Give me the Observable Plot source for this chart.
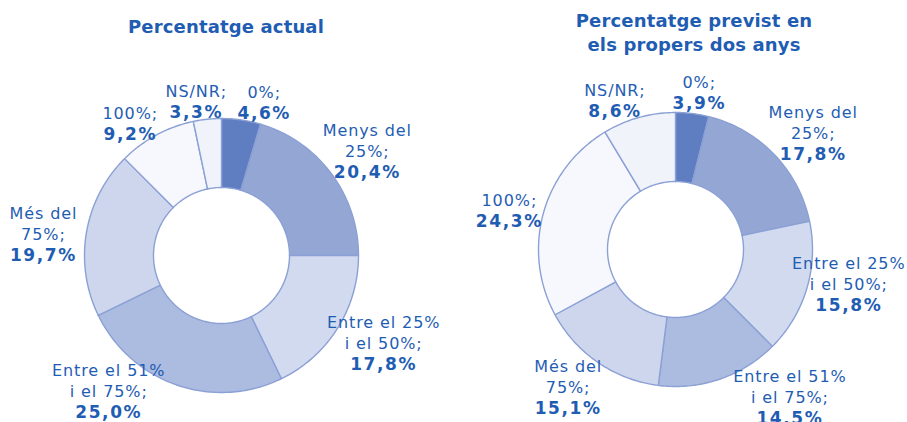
<!DOCTYPE html>
<html>
<head>
<meta charset="utf-8">
<script src="https://cdn.jsdelivr.net/npm/d3@7"></script>
<script src="https://cdn.jsdelivr.net/npm/@observablehq/plot@0.6"></script>
<style>
  html, body { margin: 0; padding: 0; background: #fff; }
  #wrap { display: flex; width: 907px; height: 422px; overflow: hidden; }
  #wrap svg { display: block; overflow: visible; }
</style>
</head>
<body>
<div id="wrap"></div>
<script>
// ---- data ----
const categories = ["0%", "Menys del 25%", "Entre el 25% i el 50%", "Entre el 51% i el 75%", "Més del 75%", "100%", "NS/NR"];
const categoryLabels = ["0%;", "Menys del\n25%;", "Entre el 25%\ni el 50%;", "Entre el 51%\ni el 75%;", "Més del\n75%;", "100%;", "NS/NR;"];
const actualValues = [4.6, 20.4, 17.8, 25.0, 19.7, 9.2, 3.3];
const previstValues = [3.9, 17.8, 15.8, 14.5, 15.1, 24.3, 8.6];
const chartTitles = ["Percentatge actual", "Percentatge previst en\nels propers dos anys"];

// ---- styles / layout ----
const sliceColors = ["#5f7ec1", "#94a7d4", "#d1daee", "#acbbe0", "#cdd6ec", "#f6f8fd", "#f0f3fa"];
const textColor = "#1f5db3";
const PX = 137;            // outer radius in pixels
const INNER = 68 / 137;    // inner radius ratio
const panels = [
  {values: actualValues, title: chartTitles[0], width: 453, cx: 221, cy: 255, titleDx: -1, titleDy: 15,
   nudges: [[23,-22],[36,-17],[46,21],[-68,12],[-43,7],[-26,-16],[-11,-22]]},
  {values: previstValues, title: chartTitles[1], width: 454, cx: 222, cy: 249, titleDx: 13.5, titleDy: 9,
   nudges: [[7,-26],[39,-15],[42,1],[70,24],[-30,30],[-34,-7],[-24,-21]]}
];
const H = 422;
// letter spacing for the three text marks (category, value, title), in mark order
const markSpacing = [null, "0.9px", "1.6px", "0.15px"];

const fmt = v => v.toFixed(1).replace(".", ",") + "%";

function donut(p) {
  const total = d3.sum(p.values);
  const rows = [];
  const labels = [];
  let cum = 0;
  p.values.forEach((v, i) => {
    const a0 = cum / total * 2 * Math.PI;
    const a1 = (cum + v) / total * 2 * Math.PI;
    cum += v;
    const n = Math.max(2, Math.ceil((a1 - a0) / (Math.PI / 180)));
    for (let k = 0; k <= n; ++k) {
      const a = a0 + (a1 - a0) * k / n;
      rows.push({key: categories[i], x: Math.sin(a), y: Math.cos(a)});
    }
    for (let k = n; k >= 0; --k) {
      const a = a0 + (a1 - a0) * k / n;
      rows.push({key: categories[i], x: INNER * Math.sin(a), y: INNER * Math.cos(a)});
    }
    const mid = (a0 + a1) / 2;
    const [nx, ny] = p.nudges[i];
    labels.push({
      x: Math.sin(mid) + nx / PX,
      y: Math.cos(mid) - ny / PX,
      cat: categoryLabels[i],
      val: fmt(v)
    });
  });

  const svg = Plot.plot({
    width: p.width,
    height: H,
    marginTop: 0, marginRight: 0, marginBottom: 0, marginLeft: 0,
    style: {fontFamily: "'DejaVu Sans', Verdana, sans-serif", background: "white", overflow: "visible"},
    x: {domain: [-p.cx / PX, (p.width - p.cx) / PX], axis: null},
    y: {domain: [-(H - p.cy) / PX, p.cy / PX], axis: null},
    color: {type: "ordinal", domain: categories, range: sliceColors},
    marks: [
      Plot.line(rows, {x: "x", y: "y", z: "key", fill: "key", stroke: "#8ba0d5", strokeWidth: 1.4, curve: "linear-closed"}),
      Plot.text(labels, {x: "x", y: "y", text: "cat", lineAnchor: "bottom", textAnchor: "middle",
        fontSize: 16, lineHeight: 21 / 16, fill: textColor}),
      Plot.text(labels, {x: "x", y: "y", text: "val", lineAnchor: "bottom", textAnchor: "middle", dy: 21,
        fontSize: 17, fontWeight: "bold", fill: textColor}),
      Plot.text([p.title], {frameAnchor: "top", lineAnchor: "top", text: d => d, dx: p.titleDx, dy: p.titleDy,
        fontSize: 18, fontWeight: "bold", lineHeight: 24 / 18, fill: textColor})
    ]
  });
  const groups = Array.from(svg.children).filter(el => el.tagName.toLowerCase() === "g");
  groups.forEach((g, i) => {
    const ls = markSpacing[i];
    if (ls) g.querySelectorAll("text, tspan").forEach(t => { t.style.letterSpacing = ls; t.setAttribute("letter-spacing", ls); });
  });
  return svg;
}

const wrap = document.getElementById("wrap");
panels.forEach(p => wrap.appendChild(donut(p)));
</script>
</body>
</html>
